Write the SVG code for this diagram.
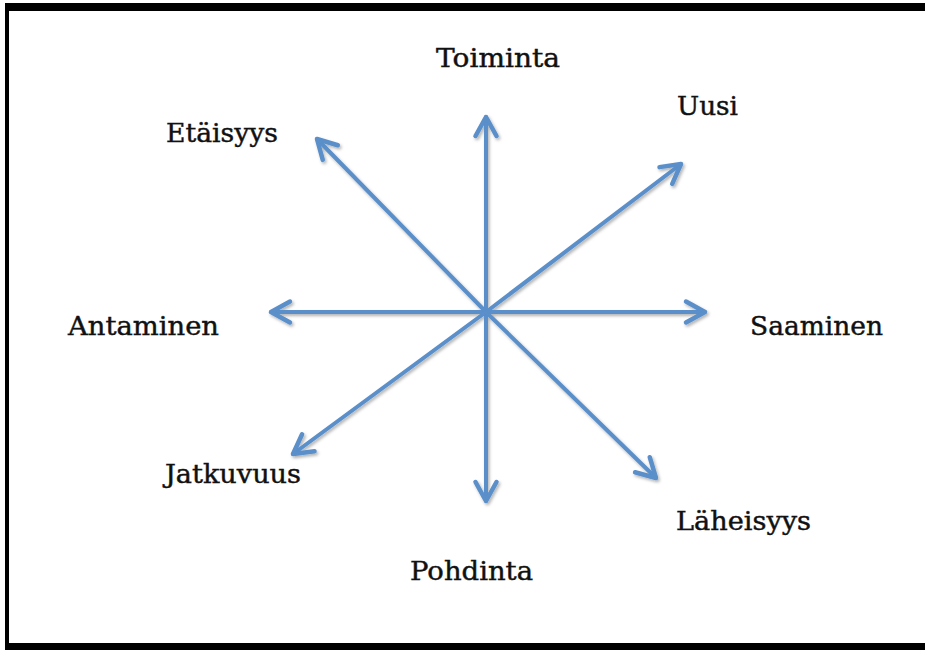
<svg xmlns="http://www.w3.org/2000/svg" width="925" height="650" viewBox="0 0 925 650">
  <defs>
    <marker id="chev" viewBox="-24 -14 28 28" markerWidth="28" markerHeight="28" refX="0" refY="0" orient="auto" markerUnits="userSpaceOnUse">
      <path d="M-19,-10.5 L0,0 L-19,10.5" fill="none" stroke="#5a8fca" stroke-width="4.5" stroke-linecap="round" stroke-linejoin="round"/>
    </marker>
    <filter id="sh" x="-20%" y="-20%" width="140%" height="140%">
      <feDropShadow dx="1.5" dy="2" stdDeviation="1.5" flood-color="#000" flood-opacity="0.3"/>
    </filter>
  </defs>
  <style>
    .lbl { font-family: "DejaVu Serif", "Liberation Serif", serif; font-size: 26px; fill: #111; stroke: #111; stroke-width: 0.45; }
    .ar { stroke: #5a8fca; stroke-width: 4; fill: none; stroke-linecap: round; marker-end: url(#chev); }
  </style>
  <rect width="925" height="650" fill="#fff"/>
  <g id="frame" fill="#000">
    <rect x="5" y="3" width="920" height="8"/>
    <rect x="5" y="3" width="4" height="647"/>
    <rect x="5" y="643" width="920" height="7"/>
  </g>
  <g id="connectors" filter="url(#sh)">
    <line class="ar" x1="486" y1="312" x2="486" y2="117"/>
    <line class="ar" x1="486" y1="312" x2="486" y2="501"/>
    <line class="ar" x1="486" y1="312" x2="271" y2="312"/>
    <line class="ar" x1="486" y1="312" x2="705" y2="312"/>
    <line class="ar" x1="486" y1="312" x2="681" y2="164"/>
    <line class="ar" x1="486" y1="312" x2="317" y2="139"/>
    <line class="ar" x1="486" y1="312" x2="293" y2="454"/>
    <line class="ar" x1="486" y1="312" x2="656" y2="478"/>
  </g>
  <g id="toiminta"><text class="lbl" x="436" y="67" textLength="124" lengthAdjust="spacingAndGlyphs">Toiminta</text></g>
  <g id="uusi"><text class="lbl" x="677" y="115" textLength="61" lengthAdjust="spacingAndGlyphs">Uusi</text></g>
  <g id="etaisyys"><text class="lbl" x="166" y="142" textLength="112" lengthAdjust="spacingAndGlyphs">Etäisyys</text></g>
  <g id="antaminen"><text class="lbl" x="68" y="335" textLength="151" lengthAdjust="spacingAndGlyphs">Antaminen</text></g>
  <g id="saaminen"><text class="lbl" x="750" y="335" textLength="133" lengthAdjust="spacingAndGlyphs">Saaminen</text></g>
  <g id="jatkuvuus"><text class="lbl" x="165" y="483" textLength="136" lengthAdjust="spacingAndGlyphs">Jatkuvuus</text></g>
  <g id="laheisyys"><text class="lbl" x="676" y="530" textLength="135" lengthAdjust="spacingAndGlyphs">Läheisyys</text></g>
  <g id="pohdinta"><text class="lbl" x="410" y="580" textLength="123" lengthAdjust="spacingAndGlyphs">Pohdinta</text></g>
</svg>
